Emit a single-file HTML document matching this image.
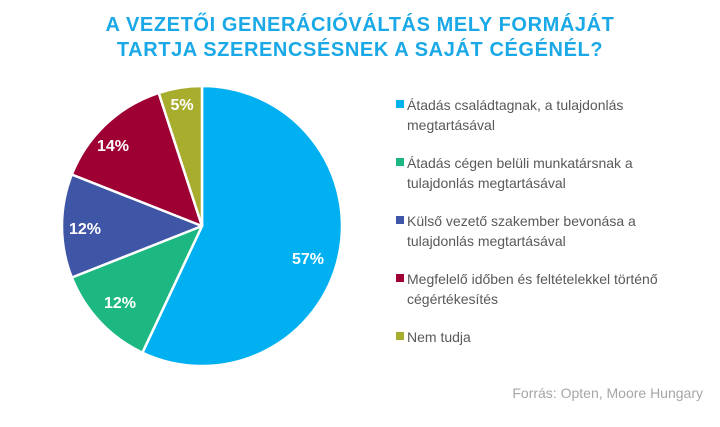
<!DOCTYPE html>
<html><head><meta charset="utf-8"><style>
body{margin:0;width:720px;height:422px;background:#fff;overflow:hidden;font-family:"Liberation Sans",sans-serif}
</style></head><body>
<svg width="720" height="422" xmlns="http://www.w3.org/2000/svg" font-family="Liberation Sans, sans-serif">
<text x="360" y="31" text-anchor="middle" font-size="20" font-weight="bold" letter-spacing="0.6" fill="#1aa9e6">A VEZETŐI GENERÁCIÓVÁLTÁS MELY FORMÁJÁT</text>
<text x="360" y="56" text-anchor="middle" font-size="20" font-weight="bold" letter-spacing="0.6" fill="#1aa9e6">TARTJA SZERENCSÉSNEK A SAJÁT CÉGÉNÉL?</text>
<g stroke="#fff" stroke-width="2.5" stroke-linejoin="round">
<path d="M202,226 L202,86 A140,140 0 1 1 142.4,352.7 Z" fill="#00b0f0"/>
<path d="M202,226 L142.4,352.7 A140,140 0 0 1 71.8,277.5 Z" fill="#1db881"/>
<path d="M202,226 L71.8,277.5 A140,140 0 0 1 71.8,174.5 Z" fill="#3f55a5"/>
<path d="M202,226 L71.8,174.5 A140,140 0 0 1 158.7,92.9 Z" fill="#9e0034"/>
<path d="M202,226 L158.7,92.9 A140,140 0 0 1 202,86 Z" fill="#a8ad2e"/>
</g>
<g fill="#fff" font-size="16" font-weight="bold" text-anchor="middle">
<text x="308" y="264">57%</text>
<text x="120" y="308">12%</text>
<text x="85" y="234">12%</text>
<text x="113" y="151">14%</text>
<text x="182" y="110">5%</text>
</g>
<g font-size="14" fill="#595959">
<rect x="396" y="100" width="8" height="8" fill="#00b0f0"/>
<text x="407" y="110">Átadás családtagnak, a tulajdonlás</text>
<text x="407" y="130">megtartásával</text>
<rect x="396" y="158" width="8" height="8" fill="#1db881"/>
<text x="407" y="168">Átadás cégen belüli munkatársnak a</text>
<text x="407" y="188">tulajdonlás megtartásával</text>
<rect x="396" y="216" width="8" height="8" fill="#3f55a5"/>
<text x="407" y="226">Külső vezető szakember bevonása a</text>
<text x="407" y="246">tulajdonlás megtartásával</text>
<rect x="396" y="274" width="8" height="8" fill="#9e0034"/>
<text x="407" y="284">Megfelelő időben és feltételekkel történő</text>
<text x="407" y="304">cégértékesítés</text>
<rect x="396" y="332" width="8" height="8" fill="#a8ad2e"/>
<text x="407" y="342">Nem tudja</text>
</g>
<text x="703" y="398" text-anchor="end" font-size="14" fill="#a6a6a6">Forrás: Opten, Moore Hungary</text>
</svg>
</body></html>
